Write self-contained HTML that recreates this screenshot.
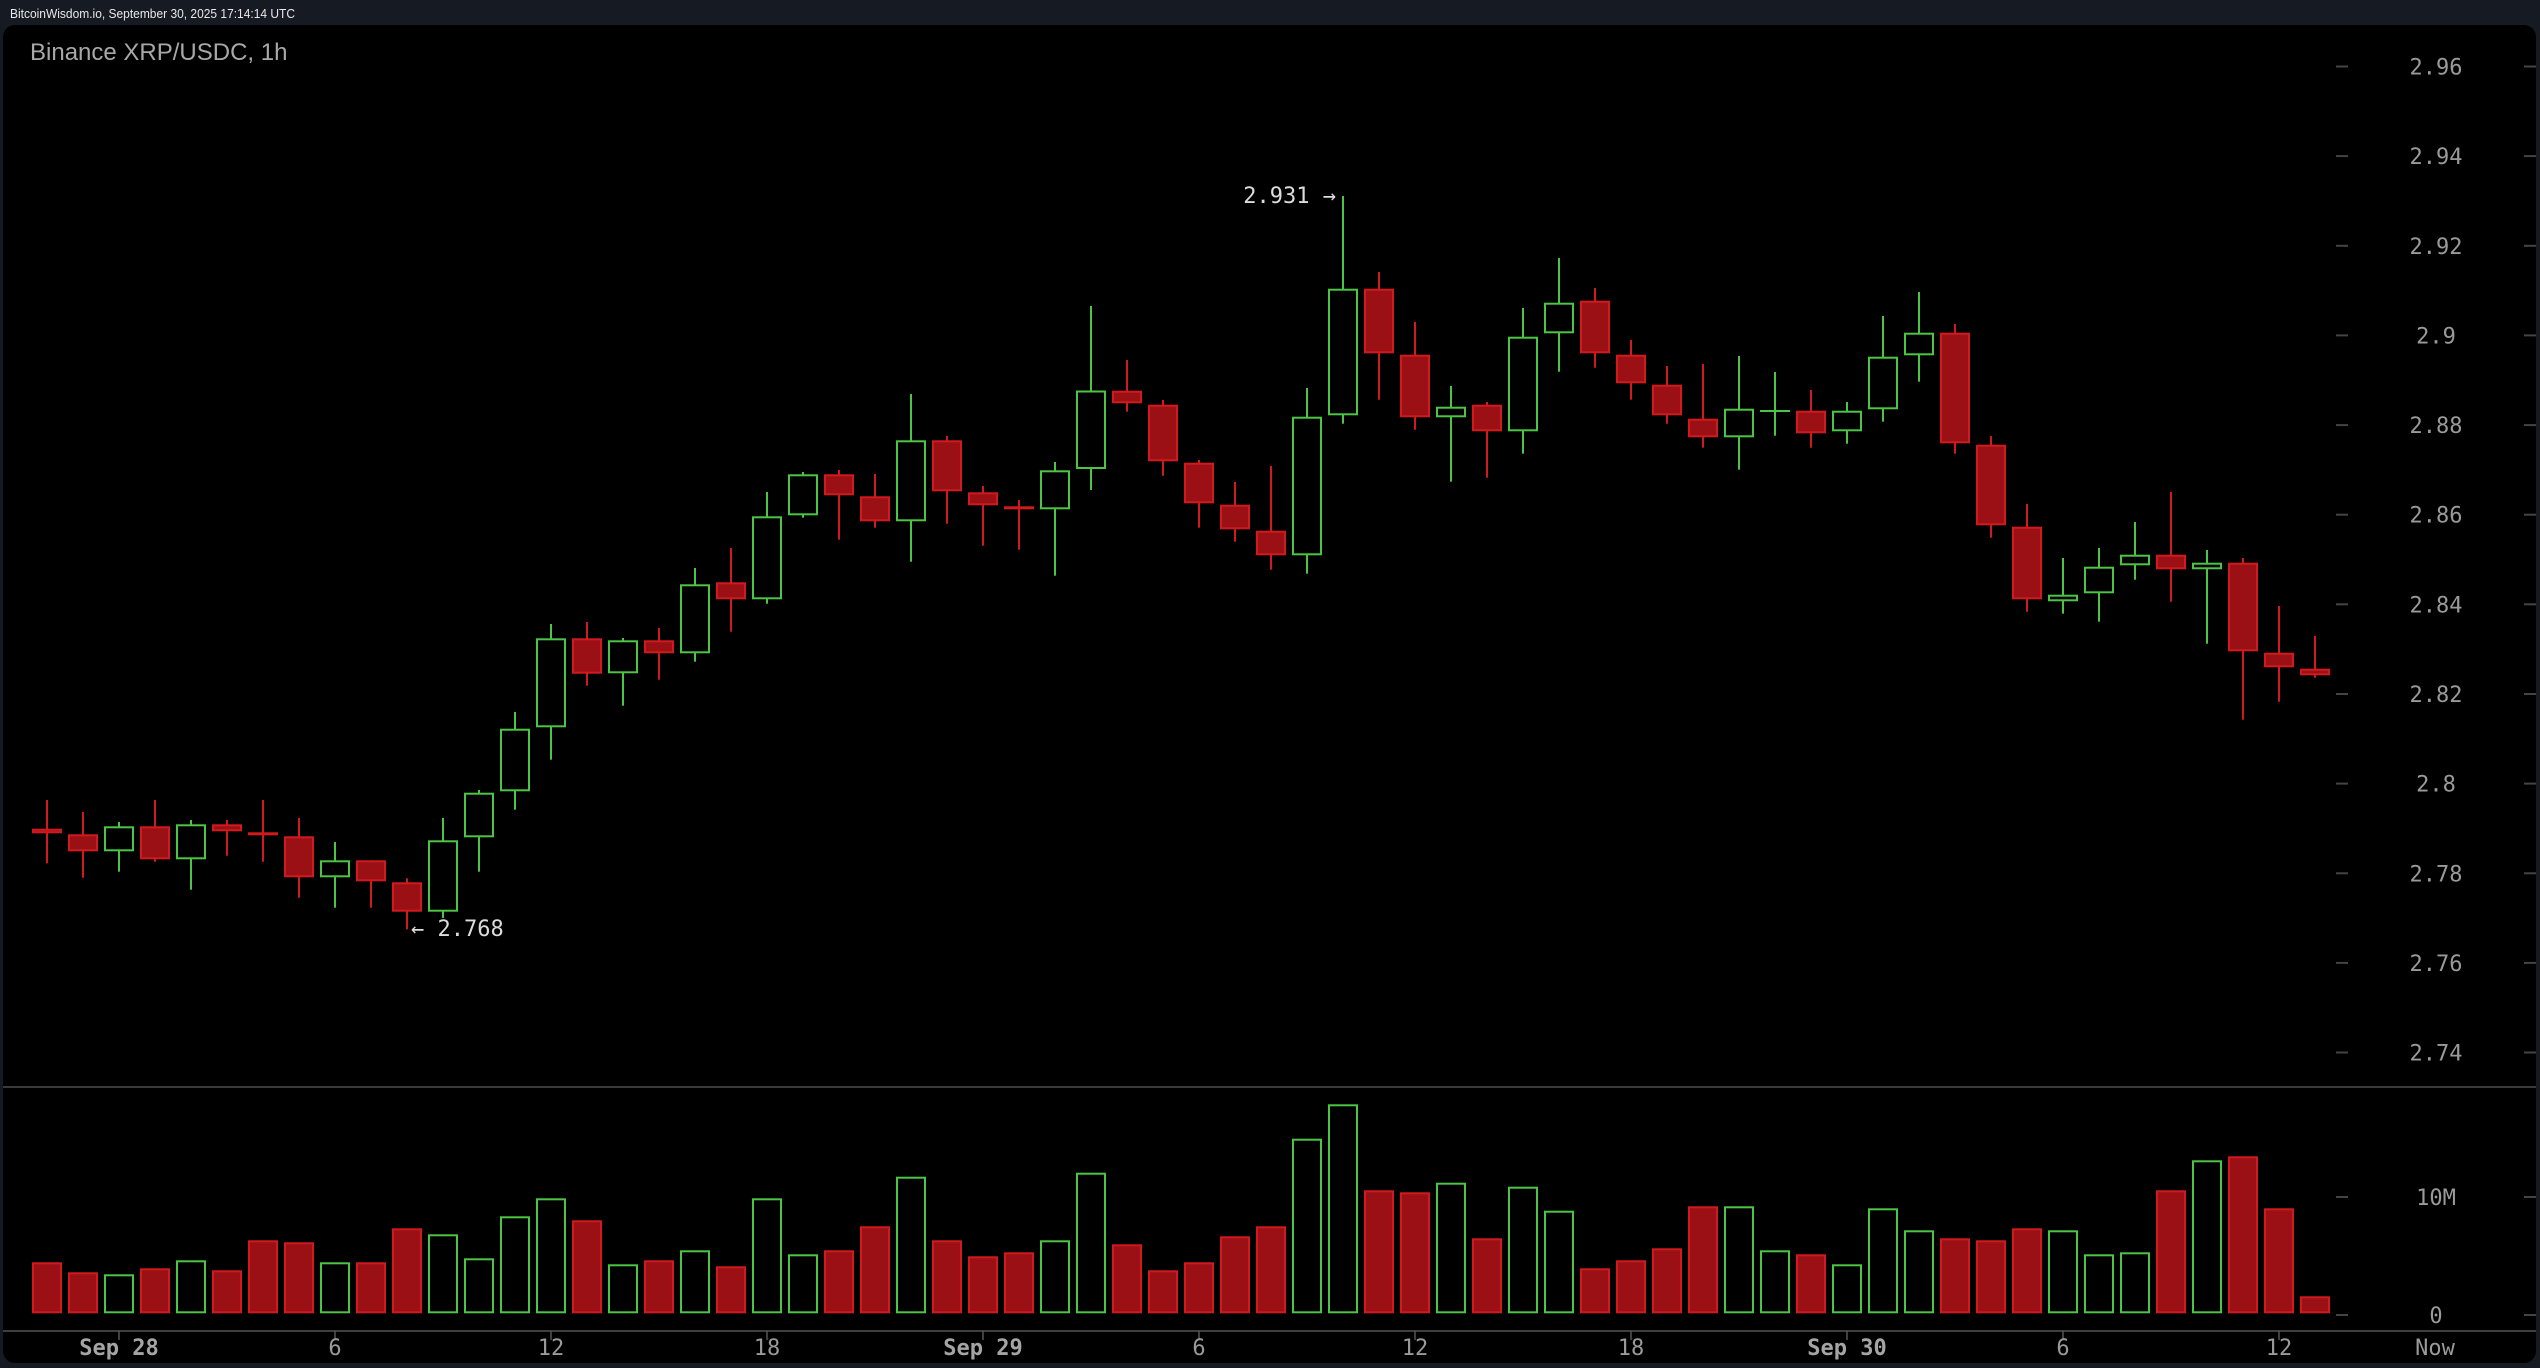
<!DOCTYPE html>
<html><head><meta charset="utf-8"><style>
html,body{margin:0;padding:0;background:#151a23;}
svg{display:block;}
.g{fill:#000;stroke:#4cc444;stroke-width:2}
.r{fill:#9b1014;stroke:#d11a1e;stroke-width:2}
.gw{fill:#4cc444}
.rw{fill:#d11a1e}
.ax{font-family:"DejaVu Sans Mono","Liberation Mono",monospace;font-size:22px;fill:#9a9a9a;text-anchor:middle}
.axb{font-family:"DejaVu Sans Mono","Liberation Mono",monospace;font-size:22px;font-weight:bold;fill:#a5a5a5;text-anchor:middle}
.tk{stroke:#444;stroke-width:2}
</style></head><body>
<svg width="2540" height="1368" viewBox="0 0 2540 1368" xmlns="http://www.w3.org/2000/svg">
<rect x="0" y="0" width="2540" height="1368" fill="#151a23"/>
<text x="10" y="18" font-family="Liberation Sans, Arial, sans-serif" font-size="12.5" fill="#e8e8e8" textLength="285" lengthAdjust="spacingAndGlyphs">BitcoinWisdom.io, September 30, 2025 17:14:14 UTC</text>
<rect x="3" y="25" width="2533" height="1338" rx="12" ry="12" fill="#000"/>
<text x="30" y="60" font-family="Liberation Sans, Arial, sans-serif" font-size="24" fill="#a8a8a8">Binance XRP/USDC, 1h</text>

<!-- separators -->
<line x1="3" y1="1087" x2="2536" y2="1087" stroke="#3a3a3a" stroke-width="2"/>
<line x1="3" y1="1331" x2="2536" y2="1331" stroke="#3f3f3f" stroke-width="2"/>

<!-- price axis -->
<g class="tk">
<line x1="2336" y1="66.5" x2="2348" y2="66.5"/><line x1="2524" y1="66.5" x2="2536" y2="66.5"/>
<line x1="2336" y1="156.1" x2="2348" y2="156.1"/><line x1="2524" y1="156.1" x2="2536" y2="156.1"/>
<line x1="2336" y1="245.8" x2="2348" y2="245.8"/><line x1="2524" y1="245.8" x2="2536" y2="245.8"/>
<line x1="2336" y1="335.4" x2="2348" y2="335.4"/><line x1="2524" y1="335.4" x2="2536" y2="335.4"/>
<line x1="2336" y1="425.1" x2="2348" y2="425.1"/><line x1="2524" y1="425.1" x2="2536" y2="425.1"/>
<line x1="2336" y1="514.7" x2="2348" y2="514.7"/><line x1="2524" y1="514.7" x2="2536" y2="514.7"/>
<line x1="2336" y1="604.3" x2="2348" y2="604.3"/><line x1="2524" y1="604.3" x2="2536" y2="604.3"/>
<line x1="2336" y1="694" x2="2348" y2="694"/><line x1="2524" y1="694" x2="2536" y2="694"/>
<line x1="2336" y1="783.6" x2="2348" y2="783.6"/><line x1="2524" y1="783.6" x2="2536" y2="783.6"/>
<line x1="2336" y1="873.3" x2="2348" y2="873.3"/><line x1="2524" y1="873.3" x2="2536" y2="873.3"/>
<line x1="2336" y1="962.9" x2="2348" y2="962.9"/><line x1="2524" y1="962.9" x2="2536" y2="962.9"/>
<line x1="2336" y1="1052.5" x2="2348" y2="1052.5"/><line x1="2524" y1="1052.5" x2="2536" y2="1052.5"/>
<line x1="2336" y1="1197" x2="2348" y2="1197"/><line x1="2524" y1="1197" x2="2536" y2="1197"/>
<line x1="2336" y1="1315" x2="2348" y2="1315"/><line x1="2524" y1="1315" x2="2536" y2="1315"/>
</g>
<g class="ax">
<text x="2436" y="74.5">2.96</text>
<text x="2436" y="164.1">2.94</text>
<text x="2436" y="253.8">2.92</text>
<text x="2436" y="343.4">2.9</text>
<text x="2436" y="433.1">2.88</text>
<text x="2436" y="522.7">2.86</text>
<text x="2436" y="612.3">2.84</text>
<text x="2436" y="702">2.82</text>
<text x="2436" y="791.6">2.8</text>
<text x="2436" y="881.3">2.78</text>
<text x="2436" y="970.9">2.76</text>
<text x="2436" y="1060.5">2.74</text>
<text x="2436" y="1205">10M</text>
<text x="2436" y="1323">0</text>
</g>

<!-- x axis -->
<g stroke="#555" stroke-width="1.5">
<line x1="119" y1="1331" x2="119" y2="1340"/><line x1="335" y1="1331" x2="335" y2="1340"/>
<line x1="551" y1="1331" x2="551" y2="1340"/><line x1="767" y1="1331" x2="767" y2="1340"/>
<line x1="983" y1="1331" x2="983" y2="1340"/><line x1="1199" y1="1331" x2="1199" y2="1340"/>
<line x1="1415" y1="1331" x2="1415" y2="1340"/><line x1="1631" y1="1331" x2="1631" y2="1340"/>
<line x1="1847" y1="1331" x2="1847" y2="1340"/><line x1="2063" y1="1331" x2="2063" y2="1340"/>
<line x1="2279" y1="1331" x2="2279" y2="1340"/>
</g>
<text class="axb" x="119" y="1355">Sep 28</text>
<text class="ax" x="335" y="1355">6</text>
<text class="ax" x="551" y="1355">12</text>
<text class="ax" x="767" y="1355">18</text>
<text class="axb" x="983" y="1355">Sep 29</text>
<text class="ax" x="1199" y="1355">6</text>
<text class="ax" x="1415" y="1355">12</text>
<text class="ax" x="1631" y="1355">18</text>
<text class="axb" x="1847" y="1355">Sep 30</text>
<text class="ax" x="2063" y="1355">6</text>
<text class="ax" x="2279" y="1355">12</text>
<text class="ax" x="2435" y="1355">Now</text>

<!-- annotations -->
<text x="1336" y="203" font-family="DejaVu Sans Mono, Liberation Mono, monospace" font-size="22" fill="#dcdcdc" text-anchor="end">2.931 →</text>
<text x="411" y="936" font-family="DejaVu Sans Mono, Liberation Mono, monospace" font-size="22" fill="#dcdcdc">← 2.768</text>

<!-- wicks -->
<g>
<rect class="rw" x="46" y="800" width="2" height="63.3"/>
<rect class="rw" x="82" y="812" width="2" height="65.7"/>
<rect class="gw" x="118" y="822" width="2" height="49.7"/>
<rect class="rw" x="154" y="800" width="2" height="61.7"/>
<rect class="gw" x="190" y="820" width="2" height="69.7"/>
<rect class="rw" x="226" y="820" width="2" height="35.7"/>
<rect class="rw" x="262" y="800" width="2" height="61.7"/>
<rect class="rw" x="298" y="818" width="2" height="79.7"/>
<rect class="gw" x="334" y="842" width="2" height="65.7"/>
<rect class="rw" x="370" y="860.3" width="2" height="47.4"/>
<rect class="rw" x="406" y="878.3" width="2" height="51"/>
<rect class="gw" x="442" y="818" width="2" height="100"/>
<rect class="gw" x="478" y="790" width="2" height="81.7"/>
<rect class="gw" x="514" y="712" width="2" height="97.7"/>
<rect class="gw" x="550" y="624" width="2" height="135.7"/>
<rect class="rw" x="586" y="622" width="2" height="63.7"/>
<rect class="gw" x="622" y="638" width="2" height="67.7"/>
<rect class="rw" x="658" y="628" width="2" height="51.7"/>
<rect class="gw" x="694" y="568" width="2" height="93.7"/>
<rect class="rw" x="730" y="548" width="2" height="83.7"/>
<rect class="gw" x="766" y="492" width="2" height="111.7"/>
<rect class="gw" x="802" y="472" width="2" height="45.7"/>
<rect class="rw" x="838" y="470" width="2" height="69.7"/>
<rect class="rw" x="874" y="474" width="2" height="53.7"/>
<rect class="gw" x="910" y="394" width="2" height="167.7"/>
<rect class="rw" x="946" y="436" width="2" height="87.7"/>
<rect class="rw" x="982" y="486" width="2" height="59.7"/>
<rect class="rw" x="1018" y="500" width="2" height="49.7"/>
<rect class="gw" x="1054" y="462" width="2" height="113.7"/>
<rect class="gw" x="1090" y="306" width="2" height="184"/>
<rect class="rw" x="1126" y="360" width="2" height="51.7"/>
<rect class="rw" x="1162" y="400" width="2" height="75.7"/>
<rect class="rw" x="1198" y="460" width="2" height="67.7"/>
<rect class="rw" x="1234" y="482" width="2" height="59.7"/>
<rect class="rw" x="1270" y="466" width="2" height="103.7"/>
<rect class="gw" x="1306" y="388" width="2" height="185.7"/>
<rect class="gw" x="1342" y="196" width="2" height="227.7"/>
<rect class="rw" x="1378" y="272" width="2" height="127.7"/>
<rect class="rw" x="1414" y="322" width="2" height="107.7"/>
<rect class="gw" x="1450" y="386" width="2" height="95.7"/>
<rect class="rw" x="1486" y="402" width="2" height="75.7"/>
<rect class="gw" x="1522" y="308" width="2" height="145.7"/>
<rect class="gw" x="1558" y="258" width="2" height="113.7"/>
<rect class="rw" x="1594" y="288" width="2" height="79.7"/>
<rect class="rw" x="1630" y="340" width="2" height="59.7"/>
<rect class="rw" x="1666" y="366" width="2" height="57.7"/>
<rect class="rw" x="1702" y="364" width="2" height="83.7"/>
<rect class="gw" x="1738" y="356" width="2" height="113.7"/>
<rect class="gw" x="1774" y="372" width="2" height="63.7"/>
<rect class="rw" x="1810" y="390" width="2" height="57.7"/>
<rect class="gw" x="1846" y="402" width="2" height="41.7"/>
<rect class="gw" x="1882" y="316" width="2" height="105.7"/>
<rect class="gw" x="1918" y="292" width="2" height="89.7"/>
<rect class="rw" x="1954" y="324" width="2" height="129.7"/>
<rect class="rw" x="1990" y="436" width="2" height="101.7"/>
<rect class="rw" x="2026" y="504" width="2" height="107.7"/>
<rect class="gw" x="2062" y="558" width="2" height="55.7"/>
<rect class="gw" x="2098" y="548" width="2" height="73.7"/>
<rect class="gw" x="2134" y="522" width="2" height="57.7"/>
<rect class="rw" x="2170" y="492" width="2" height="109.7"/>
<rect class="gw" x="2206" y="550" width="2" height="93.7"/>
<rect class="rw" x="2242" y="558" width="2" height="161.7"/>
<rect class="rw" x="2278" y="606" width="2" height="95.7"/>
<rect class="rw" x="2314" y="636" width="2" height="41.7"/>
</g>

<!-- bodies -->
<g>
<rect class="r" x="33" y="829.7" width="28" height="2.6"/>
<rect class="r" x="69" y="835.3" width="28" height="15"/>
<rect class="g" x="105" y="827.3" width="28" height="23"/>
<rect class="r" x="141" y="827.3" width="28" height="31"/>
<rect class="g" x="177" y="825.3" width="28" height="33"/>
<rect class="r" x="213" y="825.3" width="28" height="5"/>
<rect class="r" x="249" y="833.3" width="28" height="1"/>
<rect class="r" x="285" y="837.3" width="28" height="39"/>
<rect class="g" x="321" y="861.3" width="28" height="15"/>
<rect class="r" x="357" y="861.3" width="28" height="19"/>
<rect class="r" x="393" y="883.3" width="28" height="27.4"/>
<rect class="g" x="429" y="841.3" width="28" height="69.4"/>
<rect class="g" x="465" y="793.7" width="28" height="42.6"/>
<rect class="g" x="501" y="729.7" width="28" height="60.6"/>
<rect class="g" x="537" y="639.3" width="28" height="87"/>
<rect class="r" x="573" y="639.3" width="28" height="33.4"/>
<rect class="g" x="609" y="641.3" width="28" height="31"/>
<rect class="r" x="645" y="641.3" width="28" height="11"/>
<rect class="g" x="681" y="585.3" width="28" height="67"/>
<rect class="r" x="717" y="583.3" width="28" height="15"/>
<rect class="g" x="753" y="517.3" width="28" height="81"/>
<rect class="g" x="789" y="475.3" width="28" height="39"/>
<rect class="r" x="825" y="475.3" width="28" height="19"/>
<rect class="r" x="861" y="497.3" width="28" height="23"/>
<rect class="g" x="897" y="441.3" width="28" height="79"/>
<rect class="r" x="933" y="441.3" width="28" height="49"/>
<rect class="r" x="969" y="493.3" width="28" height="11"/>
<rect class="r" x="1005" y="507.3" width="28" height="1"/>
<rect class="g" x="1041" y="471.3" width="28" height="37"/>
<rect class="g" x="1077" y="391.5" width="28" height="76.5"/>
<rect class="r" x="1113" y="391.7" width="28" height="10.6"/>
<rect class="r" x="1149" y="405.7" width="28" height="54.6"/>
<rect class="r" x="1185" y="463.7" width="28" height="38.6"/>
<rect class="r" x="1221" y="505.7" width="28" height="22.6"/>
<rect class="r" x="1257" y="531.7" width="28" height="22.6"/>
<rect class="g" x="1293" y="417.7" width="28" height="136.6"/>
<rect class="g" x="1329" y="289.7" width="28" height="124.6"/>
<rect class="r" x="1365" y="289.7" width="28" height="62.6"/>
<rect class="r" x="1401" y="355.7" width="28" height="60.6"/>
<rect class="g" x="1437" y="407.7" width="28" height="8.6"/>
<rect class="r" x="1473" y="405.7" width="28" height="24.6"/>
<rect class="g" x="1509" y="337.7" width="28" height="92.6"/>
<rect class="g" x="1545" y="303.7" width="28" height="28.6"/>
<rect class="r" x="1581" y="301.7" width="28" height="50.6"/>
<rect class="r" x="1617" y="355.7" width="28" height="26.6"/>
<rect class="r" x="1653" y="385.7" width="28" height="28.6"/>
<rect class="r" x="1689" y="419.7" width="28" height="16.6"/>
<rect class="g" x="1725" y="409.7" width="28" height="26.6"/>
<rect class="gw" x="1760" y="410" width="30" height="2"/>
<rect class="r" x="1797" y="411.7" width="28" height="20.6"/>
<rect class="g" x="1833" y="411.7" width="28" height="18.6"/>
<rect class="g" x="1869" y="357.7" width="28" height="50.6"/>
<rect class="g" x="1905" y="333.7" width="28" height="20.6"/>
<rect class="r" x="1941" y="333.7" width="28" height="108.6"/>
<rect class="r" x="1977" y="445.7" width="28" height="78.6"/>
<rect class="r" x="2013" y="527.7" width="28" height="70.6"/>
<rect class="g" x="2049" y="595.7" width="28" height="4.6"/>
<rect class="g" x="2085" y="567.7" width="28" height="24.6"/>
<rect class="g" x="2121" y="555.7" width="28" height="8.6"/>
<rect class="r" x="2157" y="555.7" width="28" height="12.6"/>
<rect class="g" x="2193" y="563.7" width="28" height="4.6"/>
<rect class="r" x="2229" y="563.7" width="28" height="86.6"/>
<rect class="r" x="2265" y="653.7" width="28" height="12.6"/>
<rect class="r" x="2301" y="669.7" width="28" height="4.6"/>
</g>

<!-- volume -->
<g>
<rect class="r" x="33" y="1263.3" width="28" height="49"/>
<rect class="r" x="69" y="1273.3" width="28" height="39"/>
<rect class="g" x="105" y="1275.3" width="28" height="37"/>
<rect class="r" x="141" y="1269.3" width="28" height="43"/>
<rect class="g" x="177" y="1261.3" width="28" height="51"/>
<rect class="r" x="213" y="1271.3" width="28" height="41"/>
<rect class="r" x="249" y="1241.3" width="28" height="71"/>
<rect class="r" x="285" y="1243.3" width="28" height="69"/>
<rect class="g" x="321" y="1263.3" width="28" height="49"/>
<rect class="r" x="357" y="1263.3" width="28" height="49"/>
<rect class="r" x="393" y="1229.3" width="28" height="83"/>
<rect class="g" x="429" y="1235.3" width="28" height="77"/>
<rect class="g" x="465" y="1259.3" width="28" height="53"/>
<rect class="g" x="501" y="1217.3" width="28" height="95"/>
<rect class="g" x="537" y="1199.3" width="28" height="113"/>
<rect class="r" x="573" y="1221.3" width="28" height="91"/>
<rect class="g" x="609" y="1265.3" width="28" height="47"/>
<rect class="r" x="645" y="1261.3" width="28" height="51"/>
<rect class="g" x="681" y="1251.3" width="28" height="61"/>
<rect class="r" x="717" y="1267.3" width="28" height="45"/>
<rect class="g" x="753" y="1199.3" width="28" height="113"/>
<rect class="g" x="789" y="1255.3" width="28" height="57"/>
<rect class="r" x="825" y="1251.3" width="28" height="61"/>
<rect class="r" x="861" y="1227.3" width="28" height="85"/>
<rect class="g" x="897" y="1177.7" width="28" height="134.6"/>
<rect class="r" x="933" y="1241.3" width="28" height="71"/>
<rect class="r" x="969" y="1257.3" width="28" height="55"/>
<rect class="r" x="1005" y="1253.3" width="28" height="59"/>
<rect class="g" x="1041" y="1241.3" width="28" height="71"/>
<rect class="g" x="1077" y="1173.7" width="28" height="138.6"/>
<rect class="r" x="1113" y="1245.3" width="28" height="67"/>
<rect class="r" x="1149" y="1271.3" width="28" height="41"/>
<rect class="r" x="1185" y="1263.3" width="28" height="49"/>
<rect class="r" x="1221" y="1237.3" width="28" height="75"/>
<rect class="r" x="1257" y="1227.3" width="28" height="85"/>
<rect class="g" x="1293" y="1139.7" width="28" height="172.6"/>
<rect class="g" x="1329" y="1105.3" width="28" height="207"/>
<rect class="r" x="1365" y="1191.3" width="28" height="121"/>
<rect class="r" x="1401" y="1193.3" width="28" height="119"/>
<rect class="g" x="1437" y="1183.7" width="28" height="128.6"/>
<rect class="r" x="1473" y="1239.3" width="28" height="73"/>
<rect class="g" x="1509" y="1187.7" width="28" height="124.6"/>
<rect class="g" x="1545" y="1211.7" width="28" height="100.6"/>
<rect class="r" x="1581" y="1269.3" width="28" height="43"/>
<rect class="r" x="1617" y="1261.3" width="28" height="51"/>
<rect class="r" x="1653" y="1249.3" width="28" height="63"/>
<rect class="r" x="1689" y="1207.3" width="28" height="105"/>
<rect class="g" x="1725" y="1207.3" width="28" height="105"/>
<rect class="g" x="1761" y="1251.3" width="28" height="61"/>
<rect class="r" x="1797" y="1255.3" width="28" height="57"/>
<rect class="g" x="1833" y="1265.3" width="28" height="47"/>
<rect class="g" x="1869" y="1209.3" width="28" height="103"/>
<rect class="g" x="1905" y="1231.3" width="28" height="81"/>
<rect class="r" x="1941" y="1239.3" width="28" height="73"/>
<rect class="r" x="1977" y="1241.3" width="28" height="71"/>
<rect class="r" x="2013" y="1229.3" width="28" height="83"/>
<rect class="g" x="2049" y="1231.3" width="28" height="81"/>
<rect class="g" x="2085" y="1255.3" width="28" height="57"/>
<rect class="g" x="2121" y="1253.3" width="28" height="59"/>
<rect class="r" x="2157" y="1191.3" width="28" height="121"/>
<rect class="g" x="2193" y="1161.3" width="28" height="151"/>
<rect class="r" x="2229" y="1157.3" width="28" height="155"/>
<rect class="r" x="2265" y="1209.3" width="28" height="103"/>
<rect class="r" x="2301" y="1297.3" width="28" height="15"/>
</g>
</svg>
</body></html>
